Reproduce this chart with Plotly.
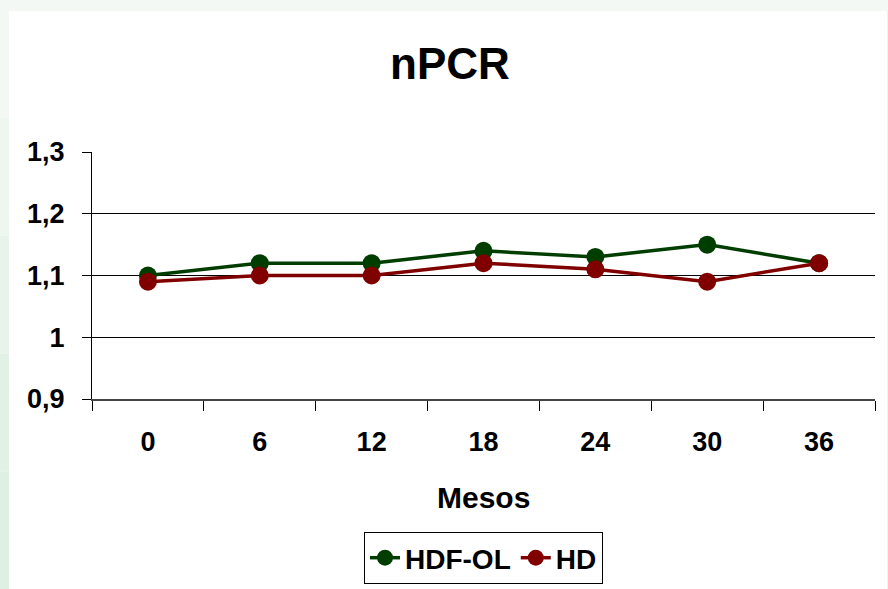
import plotly.graph_objects as go

months = ["0", "6", "12", "18", "24", "30", "36"]
hdf_ol = [1.10, 1.12, 1.12, 1.14, 1.13, 1.15, 1.12]
hd = [1.09, 1.10, 1.10, 1.12, 1.11, 1.09, 1.12]
y_tickvals = [0.9, 1.0, 1.1, 1.2, 1.3]
y_ticktext = ["0,9", "1", "1,1", "1,2", "1,3"]

W, H = 888, 589
L, R, T, B = 92, 13, 152, 190
PW, PH = W - L - R, H - T - B

def px(x):
    return (x - L) / PW

def py(y):
    return (H - B - y) / PH

FONT = "Liberation Sans, Arial, sans-serif"
GREEN = "#003d00"
RED = "#800000"

fig = go.Figure()
fig.add_trace(go.Scatter(x=months, y=hdf_ol, name="HDF-OL", mode="lines+markers",
                         line=dict(color=GREEN, width=3.5),
                         marker=dict(color=GREEN, size=18)))
fig.add_trace(go.Scatter(x=months, y=hd, name="HD", mode="lines+markers",
                         line=dict(color=RED, width=3.5),
                         marker=dict(color=RED, size=18)))

shapes = []
# light green frame strips
strip_cols = ["#f3f8f4", "#eef6f0", "#e8f3eb", "#e2f1e6", "#def0e2"]
n = len(strip_cols)
for i, c in enumerate(strip_cols):
    y0 = i * H / n
    y1 = (i + 1) * H / n
    shapes.append(dict(type="rect", xref="paper", yref="paper", layer="below",
                       x0=px(0), x1=px(9), y0=py(y1), y1=py(y0),
                       fillcolor=c, line=dict(width=0)))
shapes.append(dict(type="rect", xref="paper", yref="paper", layer="below",
                   x0=px(9), x1=px(W), y0=py(11), y1=py(0),
                   fillcolor="#f3f8f4", line=dict(width=0)))
shapes.append(dict(type="rect", xref="paper", yref="paper", layer="below",
                   x0=px(887), x1=px(W), y0=py(H), y1=py(11),
                   fillcolor="#eef4f0", line=dict(width=0)))
fig.update_layout(shapes=shapes)

fig.update_layout(
    width=W, height=H,
    margin=dict(l=L, r=R, t=T, b=B, pad=0, autoexpand=False),
    paper_bgcolor="white", plot_bgcolor="white",
    font=dict(family=FONT, color="black", size=27, weight="bold"),
    title=dict(text="nPCR", x=450 / W, xref="container", xanchor="center",
               y=1 - 64 / H, yref="container", yanchor="middle",
               font=dict(size=44, family=FONT, weight="bold", color="black")),
    showlegend=True,
    legend=dict(orientation="h", x=0.5, xanchor="center", y=py(584), yanchor="bottom",
                bordercolor="black", borderwidth=1, bgcolor="white",
                font=dict(size=28, family=FONT, weight="bold"),
                itemwidth=30, tracegroupgap=0),
    xaxis=dict(type="category", categoryorder="array", categoryarray=months,
               range=[-0.5, len(months) - 0.5],
               showline=True, linecolor="#444", linewidth=1.5,
               ticks="outside", tickson="boundaries", ticklen=10,
               tickcolor="black", tickwidth=1,
               showgrid=False, zeroline=False,
               ticklabelstandoff=18,
               tickfont=dict(size=27, family=FONT, weight="bold")),
    yaxis=dict(range=[0.9, 1.3], tickvals=y_tickvals, ticktext=y_ticktext,
               showline=True, linecolor="black", linewidth=1,
               ticks="outside", ticklen=9, tickcolor="black", tickwidth=1,
               showgrid=True, gridcolor="black", gridwidth=1, zeroline=False,
               ticklabelstandoff=12,
               tickfont=dict(size=27, family=FONT, weight="bold")),
)

fig.add_annotation(text="Mesos", xref="paper", yref="paper", x=0.5, y=py(497),
                   xanchor="center", yanchor="middle", showarrow=False,
                   font=dict(size=30, family=FONT, weight="bold", color="black"))

fig.write_html("out.html")
